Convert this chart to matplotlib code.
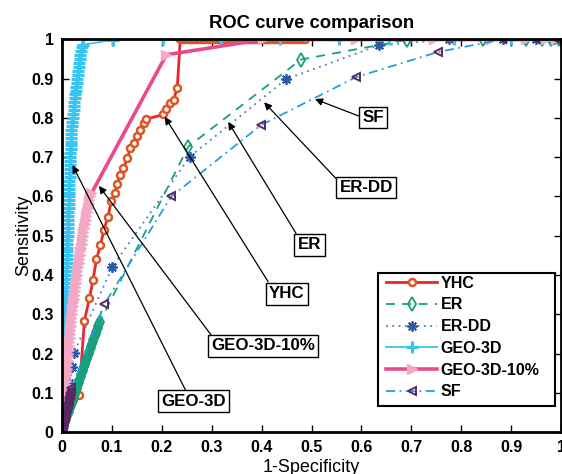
import matplotlib
matplotlib.use('Agg')
import matplotlib.pyplot as plt
from matplotlib.patches import Rectangle

plt.rcParams['font.family'] = ['Liberation Sans', 'DejaVu Sans']

# ---------------- data ----------------
names = ['YHC', 'ER', 'ER-DD', 'GEO-3D', 'GEO-3D-10%', 'SF']

yhc_x = [0.0, 0.034, 0.045, 0.055, 0.062, 0.069, 0.077, 0.084, 0.092, 0.099,
         0.106, 0.111, 0.117, 0.123, 0.131, 0.137, 0.144, 0.151, 0.157, 0.164,
         0.169, 0.203, 0.209, 0.217, 0.224, 0.231,
         0.237, 0.242, 0.247, 0.252, 0.257, 0.262, 0.267, 0.272, 0.277, 0.282,
         0.287, 0.292, 0.297, 0.302, 0.307, 0.312, 0.317, 0.322, 0.327, 0.332,
         0.337, 0.342, 0.347, 0.352, 0.357, 0.362, 0.367, 0.372, 0.377, 0.382,
         0.387, 0.392, 0.397, 0.402, 0.407, 0.412, 0.417, 0.422, 0.427, 0.432,
         0.437, 0.442, 0.447, 0.452, 0.457, 0.462, 0.467, 0.472, 0.477, 0.482,
         0.487, 1.0]
yhc_y = [0.0, 0.094, 0.284, 0.341, 0.386, 0.440, 0.476, 0.514, 0.549, 0.588,
         0.610, 0.633, 0.654, 0.672, 0.697, 0.723, 0.737, 0.754, 0.770, 0.786,
         0.797, 0.809, 0.824, 0.837, 0.847, 0.877,
         1.0, 1.0, 1.0, 1.0, 1.0, 1.0, 1.0, 1.0, 1.0, 1.0,
         1.0, 1.0, 1.0, 1.0, 1.0, 1.0, 1.0, 1.0, 1.0, 1.0,
         1.0, 1.0, 1.0, 1.0, 1.0, 1.0, 1.0, 1.0, 1.0, 1.0,
         1.0, 1.0, 1.0, 1.0, 1.0, 1.0, 1.0, 1.0, 1.0, 1.0,
         1.0, 1.0, 1.0, 1.0, 1.0, 1.0, 1.0, 1.0, 1.0, 1.0,
         1.0, 1.0]

er_x = [0.000, 0.001, 0.003, 0.004, 0.005, 0.007, 0.008, 0.009, 0.011, 0.012,
        0.014, 0.015, 0.016, 0.018, 0.019, 0.020, 0.022, 0.023, 0.024, 0.026,
        0.027, 0.028, 0.030, 0.031, 0.032, 0.034, 0.035, 0.036, 0.038, 0.039,
        0.041, 0.042, 0.043, 0.045, 0.046, 0.047, 0.049, 0.050, 0.051, 0.053,
        0.054, 0.055, 0.057, 0.058, 0.059, 0.061, 0.062, 0.063, 0.065, 0.066,
        0.068, 0.069, 0.070, 0.072, 0.073, 0.074, 0.076,
        0.253, 0.479, 0.691, 0.844, 0.930, 0.962, 0.979, 0.996]
er_y = [0.000, 0.005, 0.010, 0.015, 0.020, 0.025, 0.030, 0.035, 0.040, 0.045,
        0.050, 0.055, 0.060, 0.065, 0.070, 0.075, 0.080, 0.085, 0.090, 0.095,
        0.100, 0.105, 0.110, 0.115, 0.120, 0.125, 0.130, 0.135, 0.140, 0.145,
        0.150, 0.155, 0.160, 0.165, 0.170, 0.175, 0.180, 0.185, 0.190, 0.195,
        0.200, 0.205, 0.210, 0.215, 0.220, 0.225, 0.230, 0.235, 0.240, 0.245,
        0.250, 0.255, 0.260, 0.265, 0.270, 0.275, 0.281,
        0.727, 0.949, 0.999, 1.0, 1.0, 1.0, 1.0, 1.0]

erdd_x = [0.0, 0.005, 0.010, 0.015, 0.020, 0.024,
          0.101, 0.256, 0.449, 0.635, 0.776, 0.884, 0.949, 0.986]
erdd_y = [0.0, 0.040, 0.085, 0.125, 0.165, 0.202,
          0.421, 0.701, 0.899, 0.985, 1.0, 1.0, 1.0, 1.0]

geo_x = [0.000, 0.000, 0.000, 0.001, 0.001, 0.001, 0.001, 0.001, 0.002, 0.002,
         0.002, 0.002, 0.002, 0.002, 0.003, 0.003, 0.003, 0.003, 0.003, 0.004,
         0.004, 0.004, 0.004, 0.004, 0.005, 0.005, 0.005, 0.005, 0.006, 0.006,
         0.006, 0.006, 0.007, 0.007, 0.007, 0.007, 0.008, 0.008, 0.008, 0.009,
         0.009, 0.009, 0.009, 0.010, 0.010, 0.010, 0.011, 0.011, 0.011, 0.011,
         0.012, 0.012, 0.012, 0.012, 0.013, 0.013, 0.013, 0.014, 0.014, 0.014,
         0.014, 0.015, 0.015, 0.015, 0.015, 0.016, 0.016, 0.016, 0.017, 0.017,
         0.017, 0.017, 0.018, 0.018, 0.018, 0.018, 0.019, 0.019, 0.020, 0.021,
         0.022, 0.023, 0.024, 0.025, 0.025, 0.026, 0.027, 0.028, 0.029, 0.030,
         0.031, 0.032, 0.033, 0.034, 0.035, 0.036, 0.037, 0.038, 0.041, 0.043,
         0.103, 0.203, 0.319, 0.436, 0.556, 0.656, 0.786, 0.899, 1.0]
geo_y = [0.00, 0.01, 0.02, 0.03, 0.04, 0.05, 0.06, 0.07, 0.08, 0.09,
         0.10, 0.11, 0.12, 0.13, 0.14, 0.15, 0.16, 0.17, 0.18, 0.19,
         0.20, 0.21, 0.22, 0.23, 0.24, 0.25, 0.26, 0.27, 0.28, 0.29,
         0.30, 0.31, 0.32, 0.33, 0.34, 0.35, 0.36, 0.37, 0.38, 0.39,
         0.40, 0.41, 0.42, 0.43, 0.44, 0.45, 0.46, 0.47, 0.48, 0.49,
         0.50, 0.51, 0.52, 0.53, 0.54, 0.55, 0.56, 0.57, 0.58, 0.59,
         0.60, 0.61, 0.62, 0.63, 0.64, 0.65, 0.66, 0.67, 0.68, 0.69,
         0.70, 0.71, 0.72, 0.73, 0.74, 0.75, 0.76, 0.77, 0.78, 0.79,
         0.80, 0.81, 0.82, 0.83, 0.84, 0.85, 0.86, 0.87, 0.88, 0.89,
         0.90, 0.91, 0.92, 0.93, 0.94, 0.95, 0.96, 0.97, 0.98, 0.987,
         0.999, 1.0, 1.0, 1.0, 1.0, 1.0, 1.0, 1.0, 1.0]

geo10_x = [0.000, 0.001, 0.001, 0.002, 0.003, 0.004, 0.004, 0.005, 0.006, 0.006,
           0.007, 0.008, 0.008, 0.009, 0.009, 0.010, 0.011, 0.011, 0.012, 0.012,
           0.013, 0.014, 0.014, 0.015, 0.016, 0.016, 0.017, 0.018, 0.019, 0.019,
           0.020, 0.021, 0.022, 0.023, 0.024, 0.025, 0.026, 0.027, 0.028, 0.029,
           0.030, 0.031, 0.032, 0.034, 0.035, 0.036, 0.037, 0.038, 0.040, 0.041,
           0.042, 0.043, 0.045, 0.046, 0.048, 0.049, 0.051, 0.052, 0.054, 0.055,
           0.057, 0.059,
           0.209, 0.403, 0.589, 0.746, 0.859, 0.929, 0.969, 0.989]
geo10_y = [0.00, 0.01, 0.02, 0.03, 0.04, 0.05, 0.06, 0.07, 0.08, 0.09,
           0.10, 0.11, 0.12, 0.13, 0.14, 0.15, 0.16, 0.17, 0.18, 0.19,
           0.20, 0.21, 0.22, 0.23, 0.24, 0.25, 0.26, 0.27, 0.28, 0.29,
           0.30, 0.31, 0.32, 0.33, 0.34, 0.35, 0.36, 0.37, 0.38, 0.39,
           0.40, 0.41, 0.42, 0.43, 0.44, 0.45, 0.46, 0.47, 0.48, 0.49,
           0.50, 0.51, 0.52, 0.53, 0.54, 0.55, 0.56, 0.57, 0.58, 0.59,
           0.60, 0.608,
           0.961, 1.0, 1.0, 1.0, 1.0, 1.0, 1.0, 1.0]

sf_x = [0.000, 0.001, 0.002, 0.003, 0.003, 0.004, 0.005, 0.006, 0.007, 0.008,
        0.009, 0.009, 0.010, 0.011, 0.012, 0.013, 0.014, 0.014, 0.015, 0.016,
        0.017, 0.018, 0.019,
        0.085, 0.219, 0.399, 0.589, 0.753, 0.882, 0.948, 0.990]
sf_y = [0.000, 0.005, 0.010, 0.015, 0.020, 0.025, 0.030, 0.035, 0.040, 0.045,
        0.050, 0.055, 0.060, 0.065, 0.070, 0.075, 0.080, 0.085, 0.090, 0.095,
        0.100, 0.105, 0.111,
        0.326, 0.600, 0.782, 0.904, 0.968, 1.0, 1.0, 1.0]

ticks = [0, 0.1, 0.2, 0.3, 0.4, 0.5, 0.6, 0.7, 0.8, 0.9, 1]
tick_labels = ['0', '0.1', '0.2', '0.3', '0.4', '0.5', '0.6', '0.7', '0.8', '0.9', '1']

# annotations: label, text position, arrow tail, arrow head (data coords)
ann_labels = ['SF', 'ER-DD', 'ER', 'YHC', 'GEO-3D-10%', 'GEO-3D']
ann_text = [(0.623, 0.801), (0.610, 0.623), (0.496, 0.477),
            (0.451, 0.352), (0.403, 0.220), (0.263, 0.078)]
ann_tail = [(0.599, 0.803), (0.552, 0.642), (0.469, 0.506),
            (0.413, 0.383), (0.299, 0.247), (0.249, 0.103)]
ann_head = [(0.507, 0.848), (0.405, 0.840), (0.333, 0.790),
            (0.206, 0.803), (0.074, 0.627), (0.021, 0.680)]

# ---------------- figure ----------------
fig = plt.figure(figsize=(5.62, 4.74), dpi=100)
ax = fig.add_axes([62 / 562, 42 / 474, 499 / 562, 392.5 / 474])

ax.plot(yhc_x, yhc_y, color='#e8262b', lw=2, marker='o', ms=5,
        mfc='white', mec='#dc5524', mew=1.8, label=names[0])
ax.plot(er_x, er_y, color='#17a07a', lw=1.3, ls=(0, (5, 4)), marker='d', ms=7.5,
        mfc='none', mec='#17a07a', mew=1.3, label=names[1])
ax.plot(erdd_x, erdd_y, color='#4a7fc2', lw=1.3, ls=(0, (1, 2.5)), marker=(8, 2, 0),
        ms=7.5, mec='#2b5aab', mfc='#2b5aab', mew=1.3, label=names[2])
ax.plot(geo_x, geo_y, color='#3cc4f0', lw=1.3, marker='+', ms=8,
        mec='#3cc4f0', mew=2.3, label=names[3])
ax.plot(geo10_x, geo10_y, color='#ea4a8c', lw=2.6, marker='>', ms=7,
        mfc='#f3a8c6', mec='#f3a8c6', mew=1, label=names[4])
ax.plot(sf_x, sf_y, color='#239fdb', lw=1.3, ls=(0, (5, 2.5, 1, 2.5)), marker='<', ms=6,
        mfc='none', mec='#5b2766', mew=1.4, label=names[5])

for lab, tp, tl, hd in zip(ann_labels, ann_text, ann_tail, ann_head):
    ax.annotate('', xy=hd, xytext=tl,
                arrowprops=dict(arrowstyle='-|>', color='black', lw=0.9,
                                mutation_scale=11, shrinkA=0, shrinkB=0))
    ax.text(tp[0], tp[1], lab, fontsize=12.2, fontweight='bold',
            ha='center', va='center', zorder=6,
            bbox=dict(boxstyle='square,pad=0.2', fc='white', ec='black', lw=1))

ax.set_xlim(0, 1)
ax.set_ylim(0, 1)
ax.set_xticks(ticks)
ax.set_yticks(ticks)
ax.set_xticklabels(tick_labels, fontweight='bold', fontsize=11.5)
ax.set_yticklabels(tick_labels, fontweight='bold', fontsize=11.5)
ax.tick_params(direction='in', length=5, width=1, top=True, right=True, pad=6)
for s in ax.spines.values():
    s.set_linewidth(2)

ax.set_title('ROC curve comparison', fontweight='bold', fontsize=13.3, pad=8)
ax.set_xlabel('1-Specificity', fontsize=13, labelpad=3)
ax.set_ylabel('Sensitivity', fontsize=13, labelpad=-0.5)

# legend box (drawn as its own frame) and entries
ax.add_patch(Rectangle((0.633, 0.066), 0.355, 0.339, transform=ax.transAxes,
                       fc='white', ec='black', lw=1.5, zorder=7))
leg = ax.legend(loc='upper left', bbox_to_anchor=(0.650, 0.398),
                prop={'weight': 'bold', 'size': 11.5}, numpoints=1,
                frameon=False, handlelength=3.2, handletextpad=0.2,
                labelspacing=0.42, borderpad=0, borderaxespad=0)
leg.set_zorder(8)

fig.savefig('out.png', dpi=100)
